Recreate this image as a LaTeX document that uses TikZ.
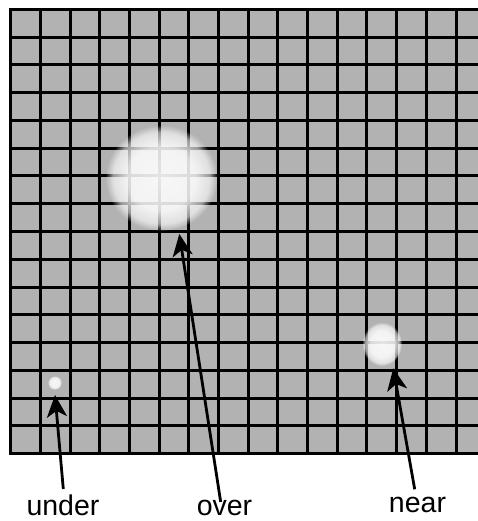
\documentclass[tikz,border=0pt]{standalone}
\usepackage{fontspec}
\setmainfont{Liberation Sans}
\usetikzlibrary{arrows.meta,fadings}
\definecolor{cellgray}{RGB}{178,178,178}
\pgfdeclareradialshading{spotsh}{\pgfpointorigin}{color(0bp)=(pgftransparent!10); color(15bp)=(pgftransparent!15); color(21.5bp)=(pgftransparent!40); color(25bp)=(pgftransparent!100); color(50bp)=(pgftransparent!100)}
\pgfdeclarefading{spotfade}{\pgfuseshading{spotsh}}
\tikzset{
  gridline/.style={line width=3.6pt, black, line cap=rect},
  spot/.style={fill=white, path fading=spotfade},
  lbl/.style={font=\fontsize{28.5}{30}\selectfont, inner sep=0pt, anchor=base},
  arr/.style={line width=2.8pt, -{Stealth[length=22pt,width=20pt,inset=6pt]}}
}
\begin{document}
\begin{tikzpicture}[x=1pt,y=-1pt]
\useasboundingbox (0,0) rectangle (478,521);
\begin{scope}
  \clip (0,0) rectangle (478,521);
  \fill[cellgray] (10.5,9.5) rectangle (490,453.5);
  \foreach \y in {9.5,37.5,64.5,92.5,120.5,148.5,175.5,203.5,231.5,259.5,287.5,314.5,342.5,370.5,398.5,425.5,453.5}
    \draw[gridline] (10.5,\y) -- (495,\y);
  \foreach \x in {10.5,40.5,70.5,99.5,129.5,159.5,188.5,218.5,248.5,277.5,307.5,337.5,366.5,396.5,426.5,456.5}
    \draw[gridline] (\x,9.5) -- (\x,453.5);
\end{scope}
% light spots
\coordinate (bigc) at (161.3,178);
\coordinate (nearc) at (382,344);
\coordinate (smallc) at (54.7,382.7);
\fill[spot] (bigc) ellipse [x radius=56pt, y radius=53pt];
\fill[spot] (nearc) ellipse [x radius=20pt, y radius=22pt];
\fill[spot] (smallc) ellipse [x radius=7pt, y radius=7pt];
% labels
\node[lbl] (ulab) at (63,515.5) {under};
\node[lbl] (olab) at (224.5,515.5) {over};
\node[lbl] (nlab) at (417.5,512.5) {near};
% arrow ends
\coordinate (tipU) at (55,395);
\coordinate (tailU) at (63.3,489);
\coordinate (tipO) at (179.3,234);
\coordinate (tailO) at (220.7,502);
\coordinate (tipN) at (393.3,368.3);
\coordinate (tailN) at (414.7,489.3);
\draw[arr] (tailU) -- (tipU);
\draw[arr] (tailO) -- (tipO);
\draw[arr] (tailN) -- (tipN);
\end{tikzpicture}
\end{document}
